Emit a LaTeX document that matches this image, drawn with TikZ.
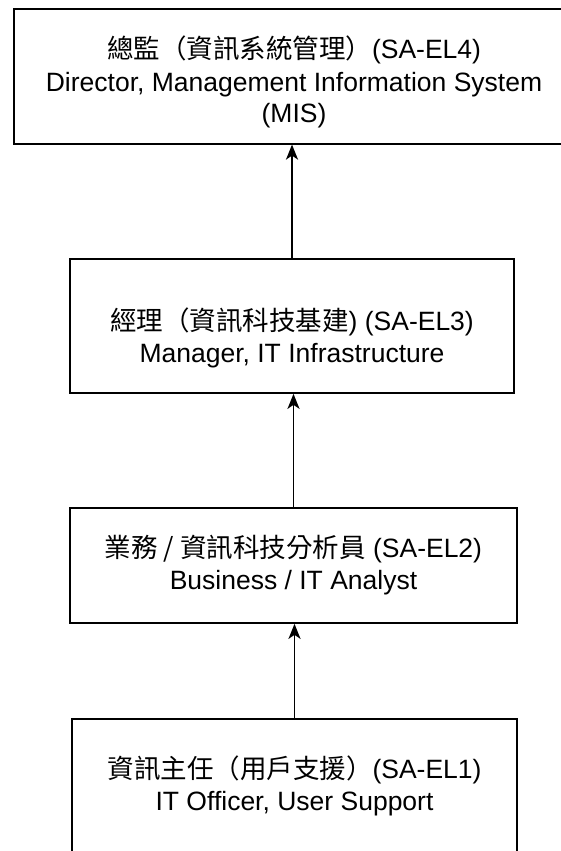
\documentclass[tikz,border=0pt]{standalone}
\usepackage{fontspec}
\setmainfont{Liberation Sans}
\newfontfamily\cjk{Noto Sans CJK TC}
\usetikzlibrary{arrows.meta}
\begin{document}
\begin{tikzpicture}[x=1pt,y=-1pt,
  box/.style={draw=black, line width=1.7pt, rectangle, inner sep=0pt},
  label text/.style={align=center, font=\fontsize{26.5}{32}\selectfont, inner sep=0pt},
  link/.style={line width=1.8pt, -{Stealth[length=15pt,width=12pt,inset=4pt]}}]
\useasboundingbox (0,0) rectangle (561,851);
\clip (0,0) rectangle (561,851);
\node[box, minimum width=560pt, minimum height=134.7pt] (b1) at (294,76.4) {};
\node[box, minimum width=444pt, minimum height=134pt] (b2) at (292,326) {};
\node[box, minimum width=447pt, minimum height=115pt] (b3) at (293.5,565.5) {};
\node[box, minimum width=445pt, minimum height=134pt] (b4) at (294.5,786) {};
\node[label text] (t1) at ([yshift=-6pt]b1.center)
  {{\cjk 總監（資訊系統管理）}(SA-EL4)\\Director, Management Information System\\(MIS)};
\node[label text] (t2) at ([yshift=-12pt]b2.center)
  {{\cjk 經理（資訊科技基建}) (SA-EL3)\\Manager, IT Infrastructure};
\node[label text] (t3) at (b3.center)
  {{\cjk 業務 / 資訊科技分析員} (SA-EL2)\\Business / IT Analyst};
\node[label text] (t4) at (b4.center)
  {{\cjk 資訊主任（用戶支援）}(SA-EL1)\\IT Officer, User Support};
\draw[link] (b2.north) -- (b2.north |- b1.south);
\draw[link] (b3.north) -- (b3.north |- b2.south);
\draw[link] (b4.north) -- (b4.north |- b3.south);
\end{tikzpicture}
\end{document}
